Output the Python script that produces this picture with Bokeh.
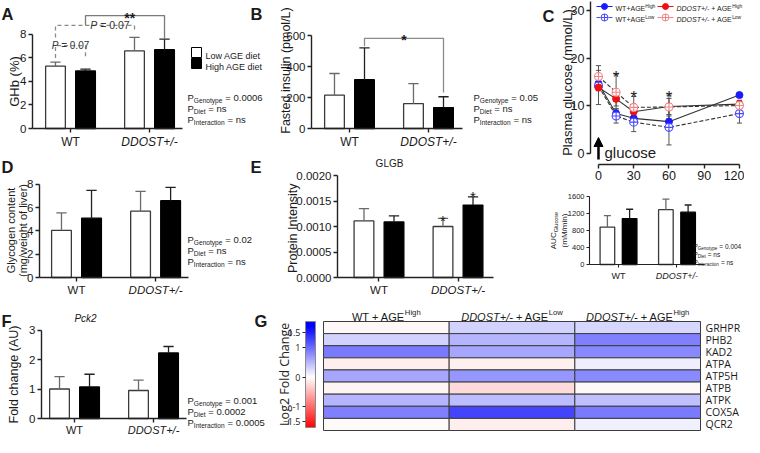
import numpy as np
from bokeh.plotting import figure
from bokeh.models import Label, Range1d, FixedTicker, Arrow, NormalHead, LinearColorMapper, NumeralTickFormatter, ColumnDataSource
from bokeh.layouts import row, column
from bokeh.embed import file_html
from bokeh.resources import INLINE
from bokeh.transform import linear_cmap

# ---------------- data ----------------
groups = ["WT", "DDOST+/-"]

ghb_low = [5.3, 6.6]
ghb_low_err = [0.35, 1.15]
ghb_high = [4.9, 6.7]
ghb_high_err = [0.15, 0.9]

ins_low = [215, 160]
ins_low_err = [140, 130]
ins_high = [315, 135]
ins_high_err = [205, 70]

gly_low = [4.05, 5.7]
gly_low_err = [1.5, 1.7]
gly_high = [5.1, 6.6]
gly_high_err = [2.4, 1.15]

glgb_low = [0.00111, 0.00100]
glgb_low_err = [0.00024, 0.00016]
glgb_high = [0.00109, 0.00142]
glgb_high_err = [0.00012, 0.00016]

pck2_low = [1.0, 0.95]
pck2_low_err = [0.42, 0.35]
pck2_high = [1.07, 2.22]
pck2_high_err = [0.43, 0.22]

auc_low = [880, 1290]
auc_low_err = [270, 250]
auc_high = [1080, 1230]
auc_high_err = [220, 170]

time_min = [0, 15, 30, 60, 120]
wt_high = [14.7, 8.4, 7.4, 6.7, 12.3]
wt_high_err = [0.6, 1.0, 1.2, 1.2, 0.5]
wt_low = [14.2, 7.9, 6.6, 5.5, 8.4]
wt_low_err = [1.0, 1.5, 2.0, 3.7, 2.0]
dd_high = [13.9, 11.5, 8.8, 9.9, 10.4]
dd_high_err = [3.6, 1.5, 1.5, 1.7, 0.8]
dd_low = [16.2, 12.9, 9.7, 9.8, 10.1]
dd_low_err = [2.3, 3.8, 2.3, 2.5, 1.0]
star_times = [15, 30, 60]
star_levels = [17.3, 13.1, 13.0]

heat_rows = ["GRHPR", "PHB2", "KAD2", "ATPA", "ATP5H", "ATPB", "ATPK", "COX5A", "QCR2"]
fc_wt_high = [-0.05, 0.3, 0.9, -0.12, 0.6, -0.08, 0.5, 0.85, -0.04]
fc_dd_low = [0.3, 0.5, 0.6, -0.1, 0.7, -0.25, 0.45, 1.25, -0.12]
fc_dd_high = [0.28, 0.85, 0.8, 0.12, 0.78, -0.05, 0.42, 0.9, 0.1]
cbar_ticks = [-1.5, -1, 0, 1, 1.5]

p_a = [("Genotype", " = 0.0006"), ("Diet", " = ns"), ("Interaction", " = ns")]
p_b = [("Genotype", " = 0.05"), ("Diet", " = ns"), ("Interaction", " = ns")]
p_c = [("Genotype", " = 0.004"), ("Diet", " = ns"), ("Interaction", " = ns")]
p_d = [("Genotype", " = 0.02"), ("Diet", " = ns"), ("Interaction", " = ns")]
p_f = [("Genotype", " = 0.001"), ("Diet", " = 0.0002"), ("Interaction", " = 0.0005")]

# ---------------- helpers ----------------
ARIAL = "Liberation Sans"
OPEN = "Open Sans"
TXT = "#1a1a1a"

CW = {' ': 278, '%': 889, '(': 333, ')': 333, '*': 389, '+': 584, '-': 333, '.': 278, '/': 278, '=': 584}
for c in "0123456789":
    CW[c] = 556
for c, w in zip("ABCDEFGHIJKLMNOPQRSTUVWXYZ",
                [667, 667, 722, 722, 667, 611, 778, 722, 278, 500, 667, 556, 833, 722, 778, 667, 778, 722, 667, 611, 722, 667, 944, 667, 667, 611]):
    CW[c] = w
for c, w in zip("abcdefghijklmnopqrstuvwxyz",
                [556, 556, 500, 556, 556, 278, 556, 556, 222, 222, 500, 222, 833, 556, 556, 556, 556, 333, 500, 278, 556, 500, 722, 500, 500, 500]):
    CW[c] = w


def tw(s, size):
    return sum(CW.get(c, 556) for c in s) * size / 1000.0


class Panel:
    """A figure whose frame fills the whole box; axes are pinned with fixed_location.
    `frame`, `xr`, `yr` define the pixel<->data mapping (axis corner at xr[0], yr[0])."""

    def __init__(self, box, frame, xr, yr, **kw):
        X0, Y0, X1, Y1 = box
        self.frame = frame
        self.xr = xr
        self.yr = yr
        full_x = (self.dx(X0), self.dx(X1))
        full_y = (self.dy(Y1), self.dy(Y0))
        p = figure(width=X1 - X0, height=Y1 - Y0, x_range=Range1d(*full_x), y_range=Range1d(*full_y),
                   output_backend="svg", toolbar_location=None,
                   min_border_left=0, min_border_right=0, min_border_top=0, min_border_bottom=0, **kw)
        p.outline_line_color = None
        p.xgrid.visible = False
        p.ygrid.visible = False
        self.p = p

    def dx(self, X):
        fx0, fy0, fx1, fy1 = self.frame
        return self.xr[0] + (X - fx0) / (fx1 - fx0) * (self.xr[1] - self.xr[0])

    def dy(self, Y):
        fx0, fy0, fx1, fy1 = self.frame
        return self.yr[0] + (fy1 - Y) / (fy1 - fy0) * (self.yr[1] - self.yr[0])


def rich(pn, xd, yd, parts, size, align="left", font=ARIAL, color=TXT, angle=0.0):
    sizes = [size * 0.7 if k in ("sub", "sup") else size for _, k in parts]
    widths = [tw(t, s) for (t, _), s in zip(parts, sizes)]
    total = sum(widths)
    pos = [{"left": 0.0, "center": -total / 2.0, "right": -total}[align]]
    for w in widths:
        pos.append(pos[-1] + w)
    base = -0.35 * size
    n = len(parts)
    for i, ((t, k), s) in enumerate(zip(parts, sizes)):
        nxt = parts[i + 1][1] if i + 1 < n else None
        lead = len(t) - len(t.lstrip(" "))
        if nxt in ("sub", "sup") and k not in ("sub", "sup"):
            anchor, ta = pos[i + 1], "right"
        else:
            anchor, ta = pos[i] + tw(" " * lead, s), "left"
        shift = {"sub": -0.28 * size, "sup": 0.42 * size}.get(k, 0.0)
        style = {"i": "italic", "b": "bold"}.get(k, "normal")
        if angle == 0:
            xo, yo = anchor, base + shift
        else:
            xo, yo = -(base + shift), anchor
        pn.p.add_layout(Label(x=xd, y=yd, x_offset=xo, y_offset=yo, text=t.strip(" "), text_font=font,
                              text_font_size=f"{s:.1f}px", text_font_style=style, text_color=color,
                              text_align=ta, text_baseline="alphabetic", angle=angle))


def img_text(pn, X, Y, parts, size, **kw):
    rich(pn, pn.dx(X), pn.dy(Y), parts, size, **kw)


def style_axes(p, size=11.5, font=ARIAL, tick_out=4, lw=1.4):
    for ax in p.axis:
        ax.axis_line_color = "#222222"
        ax.axis_line_width = lw
        ax.major_tick_line_color = "#222222"
        ax.major_tick_line_width = lw
        ax.major_tick_out = tick_out
        ax.major_tick_in = 0
        ax.minor_tick_line_color = None
        ax.major_label_text_font = font
        ax.major_label_text_font_size = f"{size}px"
        ax.major_label_text_color = TXT
        ax.major_label_standoff = 2


def pin_axes(pn):
    for ax in pn.p.xaxis:
        ax.fixed_location = pn.yr[0]
    for ax in pn.p.yaxis:
        ax.fixed_location = pn.xr[0]


OFF = 0.19
BW = 0.25


def bar_panel(pn, low, low_err, high, high_err, yticks, ybound, xbound_end, cap=0.065, tsize=11.5, tick_out=4):
    p = pn.p
    xs = np.arange(1, len(low) + 1, dtype=float)
    lo, le = np.array(low, float), np.array(low_err, float)
    hi, he = np.array(high, float), np.array(high_err, float)
    p.vbar(x=xs - OFF, top=lo, bottom=0, width=BW, fill_color="white", line_color="#3a3a3a", line_width=1.3)
    p.vbar(x=xs + OFF, top=hi, bottom=0, width=BW, fill_color="black", line_color="black", line_width=1.3)
    for xc, v, e, col in ((xs - OFF, lo, le, "#6a6a6a"), (xs + OFF, hi, he, "#222222")):
        p.segment(x0=xc, y0=v, x1=xc, y1=v + e, line_color=col, line_width=1.3)
        p.segment(x0=xc - cap, y0=v + e, x1=xc + cap, y1=v + e, line_color=col, line_width=1.3)
    style_axes(p, size=tsize, tick_out=tick_out)
    pin_axes(pn)
    p.xaxis.ticker = FixedTicker(ticks=[1, 2])
    p.xaxis.major_label_overrides = {1: "", 2: ""}
    p.xaxis.major_label_text_font_size = "0px"
    p.xaxis.bounds = (pn.xr[0], xbound_end)
    p.yaxis.ticker = FixedTicker(ticks=yticks)
    p.yaxis.bounds = (0, ybound)


def cat_labels(pn, Y, size=12):
    for i, g in enumerate(groups):
        rich(pn, i + 1, pn.dy(Y), [(g, "n" if g == "WT" else "i")], size, align="center")


def p_block(pn, X, Ys, rows, size=9.5):
    for (sub, rest), Y in zip(rows, Ys):
        img_text(pn, X, Y, [("P", "n"), (sub, "sub"), (rest, "n")], size)


def letter(pn, X, Y, s):
    img_text(pn, X, Y, [(s, "b")], 16.5)


# ---------------- Panel A ----------------
A = Panel((8, 8, 285, 156), (40, 12, 282, 136), (0.519, 3.582), (0, 10.553))
bar_panel(A, ghb_low, ghb_low_err, ghb_high, ghb_high_err, [0, 2, 4, 6, 8], 8, 2.42)
pa = A.p
wl, wh, dl, dh = 1 - OFF, 1 + OFF, 2 - OFF, 2 + OFF
pa.line([wl, wl, wh, wh], [6.0, 7.05, 7.05, 6.0], line_color="#8a8a8a", line_dash="4 3", line_width=1.3)
pa.line([wl, wl, dl, dl], [7.75, 8.77, 8.77, 8.2], line_color="#8a8a8a", line_dash="4 3", line_width=1.3)
pa.line([wh, wh, dh, dh], [8.77, 9.6, 9.6, 7.65], line_color="#7a7a7a", line_width=1.3)
rich(A, (wl + wh) / 2, 7.4, [("P", "i"), (" = 0.07", "n")], 10, align="center", color="#333333")
rich(A, (wh + dl) / 2, 9.1, [("P", "i"), (" = 0.07", "n")], 10.5, align="center", color="#333333")
rich(A, (wh + dh) / 2 + 0.06, 9.79, [("**", "b")], 14, align="center")
cat_labels(A, 145)
img_text(A, 17, 89, [("GHb (%)", "n")], 13, align="center", angle=np.pi / 2)
pa.scatter(x=[A.dx(204)] * 2, y=[A.dy(60), A.dy(71)], marker="square", size=10,
           fill_color=["white", "black"], line_color="black", line_width=1)
img_text(A, 213, 60, [("Low AGE diet", "n")], 9)
img_text(A, 213, 71, [("High AGE diet", "n")], 9)
p_block(A, 195, [102, 113, 124], p_a)
letter(A, 9, 16, "A")
letter(A, 258, 16, "B")

# ---------------- Panel B ----------------
B = Panel((285, 8, 548, 156), (319, 12, 545, 136), (0.519, 3.38), (0, 800))
bar_panel(B, ins_low, ins_low_err, ins_high, ins_high_err, [0, 200, 400, 600], 600, 2.43)
pb = B.p
pb.line([wh, wh, dh, dh], [530, 582, 582, 232], line_color="#8a8a8a", line_width=1.3)
rich(B, (wh + dh) / 2, 600, [("*", "b")], 14, align="center")
cat_labels(B, 145)
img_text(B, 289, 78, [("Fasted insulin (pmol/L)", "n")], 12.5, align="center", angle=np.pi / 2)
p_block(B, 481, [102, 113, 124], p_b)

# ---------------- Panel C ----------------
C = Panel((548, 8, 752, 200), (598, 9, 750, 172), (-6.8, 122.6), (-2.32, 32.0))
pc = C.p
style_axes(pc, size=12.5)
pin_axes(C)
pc.xaxis.ticker = FixedTicker(ticks=[0, 30, 60, 90, 120])
pc.xaxis.bounds = (0, 120)
pc.yaxis.ticker = FixedTicker(ticks=[0, 10, 20, 30])
pc.yaxis.bounds = (0, 32.0)
series = [
    (wt_high, wt_high_err, "#1a1aff", True, "solid"),
    (wt_low, wt_low_err, "#4a4aff", False, "4 2"),
    (dd_high, dd_high_err, "#ee1111", True, "solid"),
    (dd_low, dd_low_err, "#f08585", False, "4 2"),
]
t = np.array(time_min, float)
for vals, errs, col, filled, dash in series:
    v, e = np.array(vals), np.array(errs)
    pc.segment(x0=t, y0=v - e, x1=t, y1=v + e, line_color="#555555", line_width=1)
    pc.segment(x0=t - 2.2, y0=v + e, x1=t + 2.2, y1=v + e, line_color="#555555", line_width=1)
    pc.segment(x0=t - 2.2, y0=v - e, x1=t + 2.2, y1=v - e, line_color="#555555", line_width=1)
for vals, errs, col, filled, dash in series:
    pc.line(t, vals, line_color="#333333", line_width=1.1, line_dash=dash)
for vals, errs, col, filled, dash in series:
    if filled:
        pc.scatter(t, vals, marker="circle", size=7, fill_color=col, line_color=col)
    else:
        pc.scatter(t, vals, marker="circle_cross", size=8, fill_color="white", line_color=col, line_width=1.1)
for st, sl in zip(star_times, star_levels):
    rich(C, st, sl, [("*", "n")], 17, align="center")
C.p.add_layout(Arrow(end=NormalHead(size=9, fill_color="black", line_color="black"),
                     x_start=0, y_start=C.dy(167), x_end=0, y_end=C.dy(145), line_width=2.5, line_color="black"))
img_text(C, 612, 155, [("glucose", "n")], 15)
img_text(C, 570, 90, [("Plasma glucose (mmol/L)", "n")], 13, align="center", angle=np.pi / 2)
# legend
leg = [
    (604, 14, series[0], [("WT+AGE", "n"), ("High", "sup")]),
    (604, 25, series[1], [("WT+AGE", "n"), ("Low", "sup")]),
    (665, 14, series[2], [("DDOST+/-", "i"), (" + AGE", "n"), ("High", "sup")]),
    (665, 25, series[3], [("DDOST+/-", "i"), (" + AGE", "n"), ("Low", "sup")]),
]
for X, Y, s, parts in leg:
    col, filled, dash = s[2], s[3], s[4]
    pc.line([C.dx(X), C.dx(X + 16)], [C.dy(Y), C.dy(Y)], line_color=col, line_width=1.1, line_dash=dash)
    if filled:
        pc.scatter([C.dx(X + 8)], [C.dy(Y)], marker="circle", size=6, fill_color=col, line_color=col)
    else:
        pc.scatter([C.dx(X + 8)], [C.dy(Y)], marker="circle_cross", size=7, fill_color="white", line_color=col)
    img_text(C, X + 19, Y, parts, 7)
letter(C, 550, 18, "C")

# ---------------- Panel C inset ----------------
Ci = Panel((548, 200, 752, 304), (597, 202, 750, 272), (0.504, 3.12), (0, 1647))
bar_panel(Ci, auc_low, auc_low_err, auc_high, auc_high_err, [0, 400, 800, 1200, 1600], 1600, 2.47,
          cap=0.06, tsize=7.5, tick_out=3)
for ax in Ci.p.axis:
    ax.axis_line_width = 1.1
    ax.major_tick_line_width = 1.1
cat_labels(Ci, 280, size=9)
img_text(Ci, 558, 238, [("AUC", "n"), ("Glucose", "sub")], 8, align="center", angle=np.pi / 2)
img_text(Ci, 569, 238, [("(mM/min)", "n")], 8, align="center", angle=np.pi / 2)
p_block(Ci, 701, [252, 260, 268], p_c, size=6.5)

# ---------------- Panel D ----------------
D = Panel((8, 156, 276, 304), (47, 160, 273, 285), (0.532, 3.39), (0, 10.75))
bar_panel(D, gly_low, gly_low_err, gly_high, gly_high_err, [0, 2, 4, 6, 8], 8, 2.42)
cat_labels(D, 293, size=11.5)
img_text(D, 15, 238, [("Glycogen content", "n")], 11, align="center", angle=np.pi / 2)
img_text(D, 27, 238, [("(mg/weight of liver)", "n")], 11, align="center", angle=np.pi / 2)
p_block(D, 195, [244, 255, 266], p_d)
letter(D, 9, 169, "D")
letter(D, 258, 169, "E")

# ---------------- Panel E ----------------
E = Panel((276, 156, 548, 304), (345, 160, 545, 285), (0.475, 3.006), (0, 0.002451))
bar_panel(E, glgb_low, glgb_low_err, glgb_high, glgb_high_err,
          [0, 0.0005, 0.001, 0.0015, 0.002], 0.002, 2.45)
E.p.yaxis.formatter = NumeralTickFormatter(format="0.0000")
rich(E, 2 - OFF, 0.00122, [("*", "n")], 15, align="center")
rich(E, 2 + OFF, 0.00169, [("*", "n")], 15, align="center")
cat_labels(E, 293, size=11.5)
img_text(E, 397, 167, [("GLGB", "n")], 10, align="center")
img_text(E, 296, 234, [("Protein  Intensity", "n")], 12.5, align="center", angle=np.pi / 2)

# ---------------- Panel F ----------------
F = Panel((8, 304, 278, 445), (49, 308, 275, 426), (0.582, 3.443), (0, 4.0))
bar_panel(F, pck2_low, pck2_low_err, pck2_high, pck2_high_err, [0, 1, 2, 3], 3, 2.42)
cat_labels(F, 434, size=11)
img_text(F, 17, 382, [("Fold change (AU)", "n")], 12.5, align="center", angle=np.pi / 2)
img_text(F, 93, 322, [("Pck2", "i")], 10, align="center")
p_block(F, 195, [405, 416, 427], p_f)
letter(F, 9, 323, "F")
letter(F, 262, 323, "G")

# ---------------- Panel G ----------------
pal = []
for tv in np.linspace(-1, 1, 256):
    if tv < 0:
        c = int(round(255 * (1 + tv)))
        pal.append("#%02x%02x%02x" % (255, c, c))
    else:
        c = int(round(255 * (1 - tv)))
        pal.append("#%02x%02x%02x" % (c, c, 255))
mapper = LinearColorMapper(palette=pal, low=-1.72, high=1.72)

CB_LO, CB_HI = -1.70, 1.87
Gb = Panel((278, 304, 328, 445), (313, 329, 323, 435), (0, 1), (CB_LO, CB_HI), x_axis_location=None)
grad = np.linspace(CB_LO, CB_HI, 300).reshape(-1, 1)
Gb.p.image(image=[grad], x=0, y=CB_LO, dw=1, dh=CB_HI - CB_LO, color_mapper=mapper)
Gb.p.quad(left=[0], right=[1], bottom=[CB_LO], top=[CB_HI], fill_color=None, line_color="#8a8a8a", line_width=1)
style_axes(Gb.p, size=9, font=OPEN, tick_out=3, lw=1)
pin_axes(Gb)
Gb.p.yaxis.axis_line_color = None
Gb.p.yaxis.bounds = (CB_LO, CB_HI)
Gb.p.yaxis.ticker = FixedTicker(ticks=cbar_ticks)
Gb.p.yaxis.major_label_overrides = {1: "1", 0: "0", -1: "-1"}
img_text(Gb, 288, 382, [("Log2 Fold Change", "n")], 12.5, font=OPEN, align="center", angle=np.pi / 2, color="#222222")

Gh = Panel((328, 304, 752, 445), (331, 329, 708, 438), (0.5, 3.5), (0.5, 9.5),
           x_axis_location=None, y_axis_location="right")
hx, hy, hv = [], [], []
for ci, col in enumerate([fc_wt_high, fc_dd_low, fc_dd_high]):
    for ri, v in enumerate(col):
        hx.append(ci + 1)
        hy.append(len(heat_rows) - ri)
        hv.append(v)
src = ColumnDataSource(dict(x=hx, y=hy, v=hv))
Gh.p.rect(x="x", y="y", width=1, height=1, source=src,
          fill_color=linear_cmap("v", pal, -1.72, 1.72), line_color="#3c3c3c", line_width=1)
style_axes(Gh.p, size=10.5, font=OPEN, tick_out=0)
for ax in Gh.p.yaxis:
    ax.fixed_location = 3.5
Gh.p.yaxis.axis_line_color = None
Gh.p.yaxis.major_tick_line_color = None
Gh.p.yaxis.major_label_standoff = 5
Gh.p.yaxis.bounds = (0.5, 9.5)
Gh.p.yaxis.ticker = FixedTicker(ticks=list(range(1, len(heat_rows) + 1)))
Gh.p.yaxis.major_label_overrides = {len(heat_rows) - i: r for i, r in enumerate(heat_rows)}
heads = [
    [("WT + AGE", "n"), ("High", "sup")],
    [("DDOST+/-", "i"), (" + AGE", "n"), ("Low", "sup")],
    [("DDOST+/-", "i"), (" + AGE", "n"), ("High", "sup")],
]
for ci, parts in enumerate(heads):
    rich(Gh, ci + 1, Gh.dy(321), parts, 11, align="center", font=ARIAL)

# ---------------- layout ----------------
left = column(row(A.p, B.p), row(D.p, E.p))
right = column(C.p, Ci.p)
layout = column(row(left, right), row(F.p, Gb.p, Gh.p))

open("out.html", "w").write(file_html(layout, INLINE))
